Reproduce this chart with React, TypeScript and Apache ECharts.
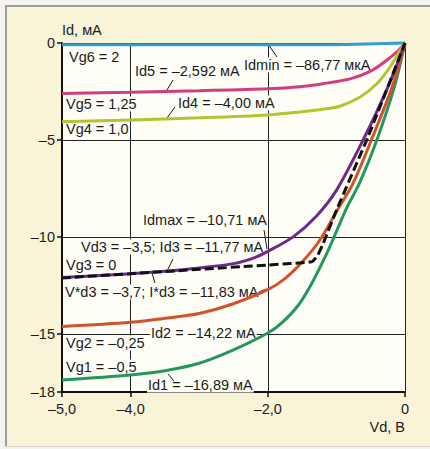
import React, { useEffect, useRef } from "react";
import * as echarts from "echarts";

// Axis ticks
const xTicks = [-5, -4, -2, 0];
const yTicks = [0, -5, -10, -15, -18];

// Output curves Id(Vd), Vd in V, Id in mA
const vg6Vd = [-5, -1, 0];
const vg6Id = [-0.09, -0.09, 0];

const vg5Vd = [-5, -4, -3, -2, -1.5, -1.2, -0.8, -0.5, -0.3, -0.1, 0];
const vg5Id = [-2.6, -2.54, -2.46, -2.36, -2.24, -2.1, -1.85, -1.45, -0.98, -0.4, 0];

const vg4Vd = [-5, -4, -3, -2, -1.5, -1.2, -0.95, -0.66, -0.41, -0.22, -0.07, 0];
const vg4Id = [-4.06, -3.97, -3.86, -3.71, -3.55, -3.42, -3.26, -2.8, -2.1, -1.25, -0.38, 0];

const vg3Vd = [-5, -4, -3.5, -3, -2.5, -2.2, -2, -1.63, -1.3, -1.0, -0.61, -0.24, 0];
const vg3Id = [-12.1, -11.9, -11.77, -11.6, -11.38, -11.08, -10.75, -10.0, -8.96, -7.6, -5.0, -2.2, 0];

const approxVd = [-5, -3.7, -2, -1.36, -1.28, -1.2, -0.99, -0.54, 0];
const approxId = [-12.12, -11.83, -11.45, -11.28, -11.0, -10.4, -8.55, -4.85, 0];

const vg2Vd = [-5, -4, -3.5, -3, -2.5, -2, -1.75, -1.5, -1.24, -1.0, -0.76, -0.49, -0.19, 0];
const vg2Id = [-14.62, -14.4, -14.2, -13.95, -13.45, -12.72, -12.15, -11.3, -10.16, -8.7, -7.25, -5.0, -2.3, 0];

const vg1Vd = [-5, -4, -3.5, -3, -2.5, -2, -1.8, -1.55, -1.36, -1.14, -0.99, -0.85, -0.66, -0.41, -0.15, 0];
const vg1Id = [-17.38, -17.12, -16.9, -16.52, -15.83, -14.96, -14.45, -13.5, -12.4, -10.85, -9.64, -8.5, -7.2, -5.0, -2.2, 0];

const labels = [
  "Vg6 = 2",
  "Id5 = –2,592 мА",
  "Idmin = –86,77 мкА",
  "Vg5 = 1,25",
  "Id4 = –4,00 мА",
  "Vg4 = 1,0",
  "Idmax = –10,71 мА",
  "Vd3 = –3,5; Id3 = –11,77 мА",
  "Vg3 = 0",
  "V*d3 = –3,7; I*d3 = –11,83 мА",
  "Vg2 = –0,25",
  "Id2 = –14,22 мА",
  "Vg1 = –0,5",
  "Id1 = –16,89 мА",
];

const zip = (xs: number[], ys: number[]) => xs.map((x, i) => [x, ys[i]]);

const FONT = '"Liberation Sans", Arial, sans-serif';
const FS = 14.5;
const PLOT_BG = "#fefef7";
const OUTER_BG = "#f9f3d8";
const TEXT = "#1c1c1c";

const fmtX = (v: number) => (v === 0 ? "0" : v.toFixed(1).replace(".", ",").replace("-", "–"));
const fmtY = (v: number) => String(v).replace("-", "–");

export default function App() {
  const ref = useRef<HTMLDivElement>(null);
  useEffect(() => {
    document.body.style.margin = "0";
    const chart = echarts.init(ref.current!, null, { renderer: "svg" });

    const labelPos: [number, number][] = [
      [68, 57], [134, 71], [243, 65], [65, 104], [177, 103], [65, 129],
      [142, 220], [80, 247], [65, 265], [64, 292], [65, 343], [150, 333],
      [65, 367], [147, 385],
    ];
    const leaders: [number, number, number, number][] = [
      [167, 90, 173, 80],
      [167, 118, 175, 107],
      [268, 44, 277, 57],
      [264, 230, 267, 249],
      [173, 259, 167, 271],
      [152, 273, 155, 283],
      [259, 292, 266, 289],
      [168, 374, 174, 381],
    ];

    const line = (name: string, xs: number[], ys: number[], color: string, extra: any = {}) => ({
      type: "line",
      name,
      data: zip(xs, ys),
      showSymbol: false,
      symbol: "none",
      smooth: 0.3,
      clip: false,
      lineStyle: { color, width: 3 },
      z: 3,
      ...extra,
    });

    chart.setOption({
      animation: false,
      backgroundColor: OUTER_BG,
      grid: {
        left: 62,
        top: 43,
        right: 25,
        bottom: 57,
        show: true,
        backgroundColor: PLOT_BG,
        borderWidth: 0,
        containLabel: false,
        outerBoundsMode: "none",
      },
      xAxis: {
        type: "value",
        min: -5,
        max: 0,
        name: "Vd, В",
        nameLocation: "end",
        nameGap: 0,
        nameTextStyle: {
          align: "right",
          verticalAlign: "top",
          padding: [27, 0, 0, 0],
          color: TEXT,
          fontSize: FS,
          fontFamily: FONT,
        },
        axisLine: { show: true, onZero: false, lineStyle: { color: "#111", width: 2 } },
        axisTick: { show: true, customValues: xTicks, length: 5, lineStyle: { color: "#111", width: 1.5 } },
        axisLabel: {
          customValues: xTicks,
          formatter: fmtX,
          margin: 9,
          color: TEXT,
          fontSize: FS,
          fontFamily: FONT,
        },
        splitLine: { show: true, lineStyle: { color: "#222", width: 1 } },
      },
      yAxis: {
        type: "value",
        min: -18,
        max: 0,
        name: "Id, мА",
        nameLocation: "end",
        nameGap: 6,
        nameTextStyle: {
          align: "left",
          verticalAlign: "bottom",
          color: TEXT,
          fontSize: FS,
          fontFamily: FONT,
        },
        axisLine: { show: true, onZero: false, lineStyle: { color: "#111", width: 2 } },
        axisTick: { show: true, customValues: yTicks, length: 5, lineStyle: { color: "#111", width: 1.5 } },
        axisLabel: {
          customValues: yTicks,
          formatter: fmtY,
          margin: 7,
          color: TEXT,
          fontSize: FS,
          fontFamily: FONT,
        },
        splitLine: { show: true, lineStyle: { color: "#222", width: 1 } },
      },
      series: [
        line("Vg6", vg6Vd, vg6Id, "#2f9fd3", { smooth: false }),
        line("Vg5", vg5Vd, vg5Id, "#d33d7d"),
        line("Vg4", vg4Vd, vg4Id, "#b6c231"),
        line("Vg1", vg1Vd, vg1Id, "#24985a"),
        line("Vg2", vg2Vd, vg2Id, "#d2522d"),
        line("Vg3", vg3Vd, vg3Id, "#6c2a8c"),
        line("approx", approxVd, approxId, "#111", {
          smooth: 0.15,
          lineStyle: { color: "#111", width: 3, type: [9, 4] },
          z: 4,
        }),
      ],
      graphic: {
        elements: [
          { type: "rect", shape: { x: 0, y: 0, width: 430, height: 5 }, style: { fill: "#f2f2ee" }, silent: true },
          { type: "rect", shape: { x: 0, y: 0, width: 5, height: 449 }, style: { fill: "#f2f2ee" }, silent: true },
          { type: "rect", shape: { x: 0, y: 447, width: 430, height: 2 }, style: { fill: "#f2f2ee" }, silent: true },
          { type: "line", shape: { x1: 5, y1: 6, x2: 430, y2: 6 }, style: { stroke: "#9c9c9c", lineWidth: 2 }, silent: true },
          { type: "line", shape: { x1: 6, y1: 5, x2: 6, y2: 447 }, style: { stroke: "#9c9c9c", lineWidth: 2 }, silent: true },
          { type: "line", shape: { x1: 5, y1: 446.5, x2: 430, y2: 446.5 }, style: { stroke: "#d8d8d0", lineWidth: 1 }, silent: true },
          ...labels.map((t, i) => ({
            type: "text",
            x: labelPos[i][0],
            y: labelPos[i][1],
            z: 1,
            silent: true,
            style: {
              text: t,
              fill: TEXT,
              fontSize: FS,
              fontFamily: FONT,
              align: "left",
              verticalAlign: "middle",
              backgroundColor: PLOT_BG,
              padding: [0, 1, 0, 1],
            },
          })),
          ...leaders.map((l) => ({
            type: "line",
            z: 1,
            silent: true,
            shape: { x1: l[0], y1: l[1], x2: l[2], y2: l[3] },
            style: { stroke: "#1a1a1a", lineWidth: 1 },
          })),
        ],
      },
    });
    return () => chart.dispose();
  }, []);
  return <div ref={ref} style={{ width: 430, height: 449 }} />;
}
